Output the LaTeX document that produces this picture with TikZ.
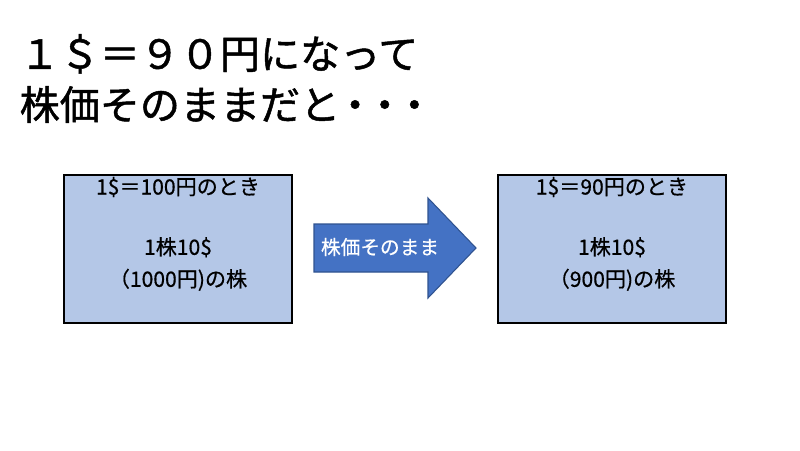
\documentclass[tikz,border=0pt]{standalone}
\usepackage{fontspec}
\setmainfont{Noto Sans CJK JP}
\usetikzlibrary{positioning}

\definecolor{boxfill}{HTML}{B4C7E7}
\definecolor{arrowfill}{HTML}{4472C4}
\definecolor{arrowline}{HTML}{2F528F}

\newcommand{\nakaten}{\hbox to 0.74em{\hss ・\hss}}

\tikzset{
  ratebox/.style={draw=black,fill=boxfill,line width=0.3pt},
  boxtext/.style={font=\fontsize{6}{9.1}\selectfont\addfontfeature{FakeBold=0.6},align=center,inner sep=0pt},
  bigarrow/.style={draw=arrowline,fill=arrowfill,line width=0.3pt}
}

\begin{document}
\begin{tikzpicture}
   \useasboundingbox[fill=white] (0,0) rectangle (8,4.5);
   % title
   \node[anchor=west,align=left,inner sep=0pt,font=\fontsize{11.4}{14.5}\selectfont\addfontfeature{FakeBold=1.2}] (title) at (0.19,3.715)
        {１＄＝９０円になって\\株価そのままだと\nakaten\nakaten\nakaten};
   % left and right boxes
   \draw[ratebox] (0.64,1.27) rectangle (2.92,2.75);
   \draw[ratebox] (4.98,1.27) rectangle (7.26,2.75);
   \node[boxtext] (lhead) at (1.78,2.63) {1\$＝100円のとき};
   \node[boxtext] (lbody) at (1.78,1.86) {1株10\$\\（1000円)の株};
   \node[boxtext] (rhead) at (6.12,2.63) {1\$＝90円のとき};
   \node[boxtext] (rbody) at (6.12,1.86) {1株10\$\\（900円)の株};
   % arrow
   \draw[bigarrow] (3.14,2.26) -- (4.28,2.26) -- (4.28,2.52) -- (4.76,2.02)
        -- (4.28,1.52) -- (4.28,1.78) -- (3.14,1.78) -- cycle;
   \node[boxtext,text=white,font=\fontsize{5.6}{7}\selectfont\addfontfeature{FakeBold=0.6}] (keep) at (3.80,2.03) {株価そのまま};
\end{tikzpicture}
\end{document}
